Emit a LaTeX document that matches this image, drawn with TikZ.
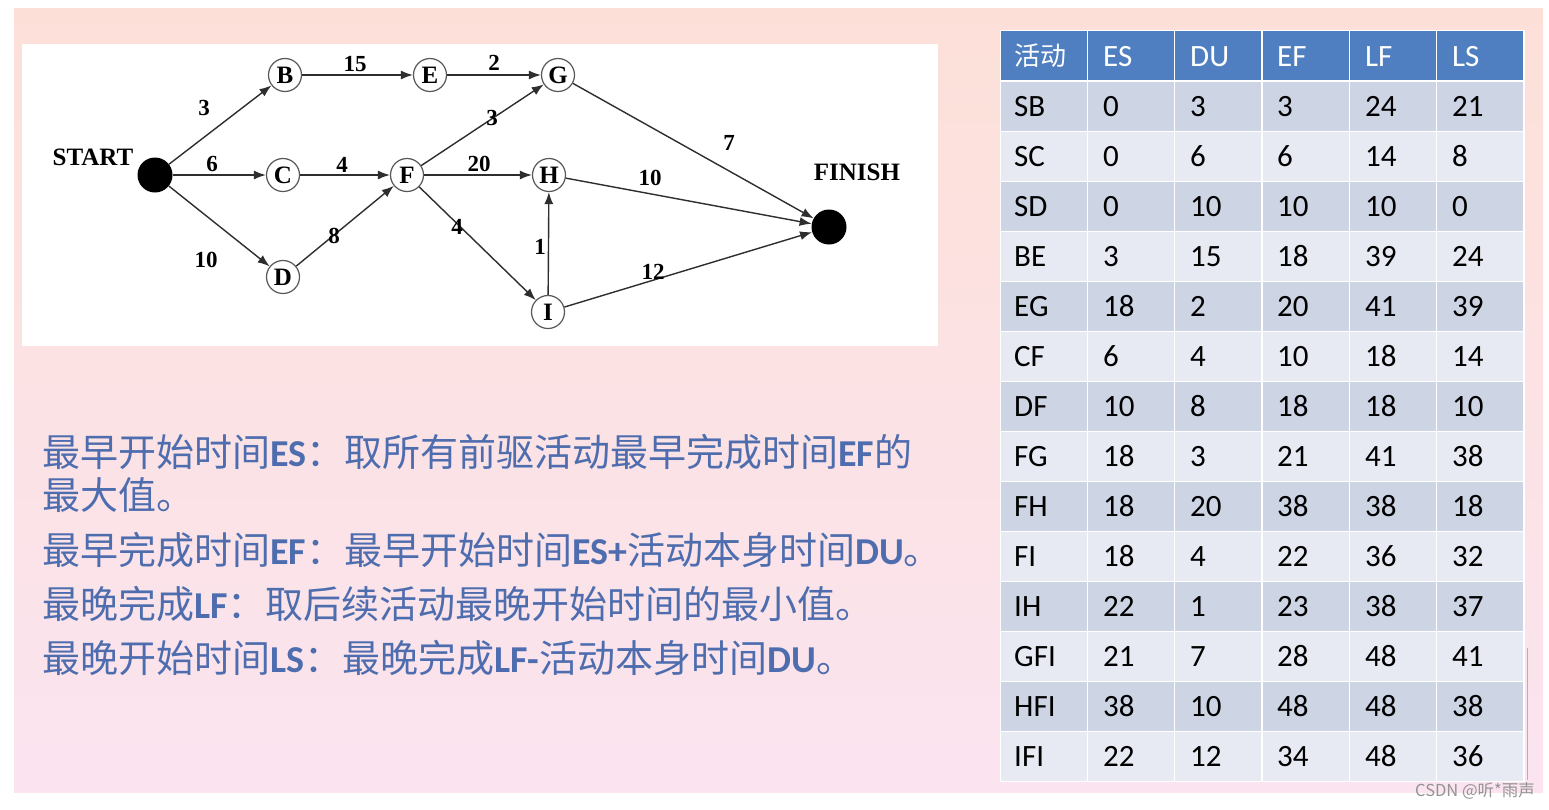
\documentclass[tikz,border=0pt]{standalone}
\usepackage{fontspec}
\usetikzlibrary{arrows.meta}
\newfontfamily\cjk{Noto Sans CJK SC}
\newfontfamily\calib{Carlito}
\newfontfamily\tms{Liberation Serif}
\definecolor{hdr}{HTML}{4F7FC0}
\definecolor{rowA}{HTML}{CDD4E4}
\definecolor{rowB}{HTML}{E8EAF3}
\definecolor{txt}{HTML}{4E6DAE}
\definecolor{bgtop}{HTML}{FCE0D8}
\definecolor{bgbot}{HTML}{FBE4F0}
\definecolor{edgec}{HTML}{2E2E2E}
\tikzset{
  vtx/.style={circle, draw=edgec!80, line width=1.2pt, fill=white, minimum size=33pt, inner sep=0pt, font=\tms\bfseries\fontsize{25}{25}\selectfont},
  dotnode/.style={circle, fill=black, minimum size=35pt, inner sep=0pt},
  elab/.style={font=\tms\bfseries\fontsize{23}{23}\selectfont, inner sep=0pt},
  biglab/.style={font=\tms\bfseries\fontsize{25}{25}\selectfont, inner sep=0pt},
  arr/.style={draw=edgec, line width=1.4pt, -{Latex[length=12pt,width=9pt]}},
  txtline/.style={anchor=west, inner sep=0pt, text=txt, font=\fontsize{38}{42}\selectfont},
  celltxt/.style={anchor=base west, inner sep=0pt, font=\calib\fontsize{31}{31}\selectfont},
}
\begin{document}
\begin{tikzpicture}[x=1pt,y=-1pt]
\path[use as bounding box] (0,0) rectangle (1549,809);
% background panel
\shade[top color=bgtop, bottom color=bgbot] (14,8) rectangle (1543,792);
\fill[white] (22,44) rectangle (938,346);

% ---------- network graph ----------
\node[dotnode] (S) at (155,175) {};
\node[biglab] (startlab) at (93,157) {START};
\node[vtx] (B) at (285,75) {B};
\node[vtx] (E) at (430,75) {E};
\node[vtx] (G) at (558,75) {G};
\node[vtx] (C) at (283,175) {C};
\node[vtx] (F) at (407,175) {F};
\node[vtx] (H) at (549,175) {H};
\node[vtx] (D) at (283,277) {D};
\node[vtx] (I) at (548,312) {I};
\node[dotnode] (T) at (829,227) {};
\node[biglab] (finlab) at (857,172) {FINISH};

\draw[arr] (S) -- (B);
\draw[arr] (S) -- (C);
\draw[arr] (S) -- (D);
\draw[arr] (B) -- (E);
\draw[arr] (E) -- (G);
\draw[arr] (C) -- (F);
\draw[arr] (D) -- (F);
\draw[arr] (F) -- (G);
\draw[arr] (F) -- (H);
\draw[arr] (F) -- (I);
\draw[arr] (I) -- (H);
\draw[arr] (G) -- (T);
\draw[arr] (H) -- (T);
\draw[arr] (I) -- (T);

\node[elab] (l1) at (204,108) {3};
\node[elab] (l2) at (355,64) {15};
\node[elab] (l3) at (494,63) {2};
\node[elab] (l4) at (212,164) {6};
\node[elab] (l5) at (342,165) {4};
\node[elab] (l6) at (479,164) {20};
\node[elab] (l7) at (492,118) {3};
\node[elab] (l8) at (729,143) {7};
\node[elab] (l9) at (650,178) {10};
\node[elab] (l10) at (334,236) {8};
\node[elab] (l11) at (206,260) {10};
\node[elab] (l12) at (457,227) {4};
\node[elab] (l13) at (540,247) {1};
\node[elab] (l14) at (653,272) {12};

% ---------- explanation text ----------
\node[txtline] (t1) at (42,452) {{\cjk 最早开始时间}{\calib\bfseries ES}{\cjk ：取所有前驱活动最早完成时间}{\calib\bfseries EF}{\cjk 的}};
\node[txtline] (t2) at (42,495) {{\cjk 最大值。}};
\node[txtline] (t3) at (42,550) {{\cjk 最早完成时间}{\calib\bfseries EF}{\cjk ：最早开始时间}{\calib\bfseries ES+}{\cjk 活动本身时间}{\calib\bfseries DU}{\cjk 。}};
\node[txtline] (t4) at (42,604) {{\cjk 最晚完成}{\calib\bfseries LF}{\cjk ：取后续活动最晚开始时间的最小值。}};
\node[txtline] (t5) at (42,658) {{\cjk 最晚开始时间}{\calib\bfseries LS}{\cjk ：最晚完成}{\calib\bfseries LF-}{\cjk 活动本身时间}{\calib\bfseries DU}{\cjk 。}};

% ---------- table ----------
\fill[white] (1000,30) rectangle (1525,782);
\foreach \x in {1001,1088,1175,1263,1350,1437} {
  \fill[hdr] (\x,31) rectangle ++(86,49);
}
\node[celltxt, text=white, font=\cjk\fontsize{26}{26}\selectfont] (h1) at (1014,65) {活动};
\foreach \x/\v [count=\k from 2] in {1103/ES,1190/DU,1277/EF,1365/LF,1452/LS} {
  \node[celltxt, text=white] (h\k) at (\x,66) {\v};
}
\foreach \a/\b/\c/\d/\e/\f [count=\i from 0] in {SB/0/3/3/24/21, SC/0/6/6/14/8, SD/0/10/10/10/0, BE/3/15/18/39/24, EG/18/2/20/41/39, CF/6/4/10/18/14, DF/10/8/18/18/10, FG/18/3/21/41/38, FH/18/20/38/38/18, FI/18/4/22/36/32, IH/22/1/23/38/37, GFI/21/7/28/48/41, HFI/38/10/48/48/38, IFI/22/12/34/48/36} {
  \pgfmathsetmacro\yt{82+50*\i}
  \pgfmathsetmacro\yb{\yt+34.5}
  \ifodd\i\def\rc{rowB}\else\def\rc{rowA}\fi
  \foreach \x in {1001,1088,1175,1263,1350,1437} {
    \fill[\rc] (\x,\yt) rectangle ++(86,48.5);
  }
  \node[celltxt] (r\i a) at (1014,\yb) {\a};
  \node[celltxt] (r\i b) at (1103,\yb) {\b};
  \node[celltxt] (r\i c) at (1190,\yb) {\c};
  \node[celltxt] (r\i d) at (1277,\yb) {\d};
  \node[celltxt] (r\i e) at (1365,\yb) {\e};
  \node[celltxt] (r\i f) at (1452,\yb) {\f};
}
\draw[gray!60, line width=1pt] (1527,648) -- (1527,780);

% watermark
\node[inner sep=0pt, text=gray!85, font=\cjk\fontsize{16.5}{16.5}\selectfont] (wm) at (1475,791) {CSDN @听*雨声};
\end{tikzpicture}
\end{document}
